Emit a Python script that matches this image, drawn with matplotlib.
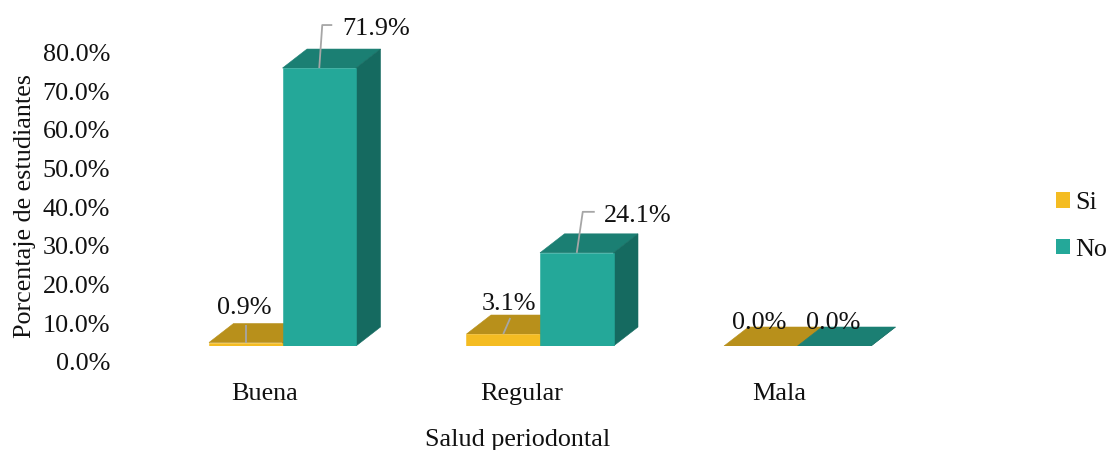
import matplotlib
matplotlib.use("Agg")
import matplotlib.pyplot as plt
from matplotlib.patches import Patch, Polygon
from matplotlib.transforms import ScaledTranslation
import numpy as np

# --- Data ---
categories = ["Buena", "Regular", "Mala"]
si_values = [0.9, 3.1, 0.0]
no_values = [71.9, 24.1, 0.0]
y_ticks = [0, 10, 20, 30, 40, 50, 60, 70, 80]

# --- Layout (pixels of the 1111x450 canvas) ---
W, H = 1111, 450
DPI = 100
AX_LEFT, AX_RIGHT = 115, 960
AX_TOP, AX_BASE = 10, 346
PX_PER_CAT = 257.5
PX_PER_PCT = 3.866
FIRST_CAT_PX = 282.5
BAR_WIDTH = 73.5 / PX_PER_CAT
DEPTH_X = 24.5 / PX_PER_CAT
DEPTH_Y = 19 / PX_PER_PCT

SI_COLORS = ("#F4BC22", "#B8901B", "#A07D17")
NO_COLORS = ("#24A899", "#1B7F73", "#156A60")
TEXT_COLOR = "#111111"
LEADER_COLOR = "#A6A6A6"
FONT_SIZE = 18.8

plt.rcParams["font.family"] = ["Liberation Serif", "DejaVu Serif"]


def draw_bars(ax, x_pos, values, colors, zorder):
    front, top, side = colors
    ax.bar(x_pos, values, width=BAR_WIDTH, color=front, edgecolor=front,
           linewidth=0.4, zorder=zorder + 1)
    for x, v in zip(x_pos, values):
        left, right = x - BAR_WIDTH / 2, x + BAR_WIDTH / 2
        ax.add_patch(Polygon(
            [(left, v), (right, v), (right + DEPTH_X, v + DEPTH_Y), (left + DEPTH_X, v + DEPTH_Y)],
            closed=True, facecolor=top, edgecolor=top, linewidth=0.4, zorder=zorder))
        ax.add_patch(Polygon(
            [(right, 0), (right + DEPTH_X, DEPTH_Y), (right + DEPTH_X, v + DEPTH_Y), (right, v)],
            closed=True, facecolor=side, edgecolor=side, linewidth=0.4, zorder=zorder))


def label_bar(ax, x, value, leader, text_off, ha="center"):
    # leader and text offsets are pixels relative to the top-centre of the bar front
    if leader:
        lx = [x + dx / PX_PER_CAT for dx, dy in leader]
        ly = [value + dy / PX_PER_PCT for dx, dy in leader]
        ax.plot(lx, ly, color=LEADER_COLOR, linewidth=1.3, zorder=10,
                solid_capstyle="butt", clip_on=False)
    ax.text(x + text_off[0] / PX_PER_CAT, value + text_off[1] / PX_PER_PCT,
            f"{value:.1f}%", ha=ha, va="center", fontsize=FONT_SIZE,
            color=TEXT_COLOR, zorder=11, clip_on=False)


fig = plt.figure(figsize=(W / DPI, H / DPI), dpi=DPI)
ax = fig.add_axes([AX_LEFT / W, 1 - AX_BASE / H, (AX_RIGHT - AX_LEFT) / W, (AX_BASE - AX_TOP) / H])
ax.patch.set_alpha(0)
ax.set_xlim((AX_LEFT - FIRST_CAT_PX) / PX_PER_CAT, (AX_RIGHT - FIRST_CAT_PX) / PX_PER_CAT)
ax.set_ylim(0, (AX_BASE - AX_TOP) / PX_PER_PCT)

x = np.arange(len(categories))
si_x = x - BAR_WIDTH / 2
no_x = x + BAR_WIDTH / 2

draw_bars(ax, si_x, si_values, SI_COLORS, 2)
draw_bars(ax, no_x, no_values, NO_COLORS, 4)

# data labels with their leader lines
label_bar(ax, si_x[0], si_values[0], [(0, 0), (0, 18)], (-1, 35))
label_bar(ax, no_x[0], no_values[0], [(0, 0), (3, 43), (13, 43)], (23.5, 39), ha="left")
label_bar(ax, si_x[1], si_values[1], [(0, 0), (7, 16)], (6, 30))
label_bar(ax, no_x[1], no_values[1], [(0, 0), (6, 41), (18, 41)], (27.5, 37), ha="left")
label_bar(ax, si_x[2], si_values[2], None, (-1.5, 23))
label_bar(ax, no_x[2], no_values[2], None, (-1.5, 23))

for spine in ax.spines.values():
    spine.set_visible(False)

# the value labels sit 15 px under their height, as the depth shifts the axis wall
ax.set_yticks(y_ticks)
ax.set_yticklabels([f"{t:.1f}%" for t in y_ticks], fontsize=FONT_SIZE, color=TEXT_COLOR)
ax.tick_params(axis="y", length=0, pad=3.5)
shift_y = ScaledTranslation(0, -15.7 / DPI, fig.dpi_scale_trans)
for lab in ax.get_yticklabels():
    lab.set_transform(lab.get_transform() + shift_y)

ax.set_xticks(x)
ax.set_xticklabels(categories, fontsize=FONT_SIZE, color=TEXT_COLOR)
ax.tick_params(axis="x", length=0, pad=26.5)
shift_x = ScaledTranslation(-18 / DPI, 0, fig.dpi_scale_trans)
for lab in ax.get_xticklabels():
    lab.set_transform(lab.get_transform() + shift_x)

fig.text(518 / W, 1 - 440 / H, "Salud periodontal", ha="center", va="center",
         fontsize=FONT_SIZE, color=TEXT_COLOR)
fig.text(25 / W, 1 - 206 / H, "Porcentaje de estudiantes", ha="center", va="center",
         rotation=90, fontsize=FONT_SIZE, color=TEXT_COLOR)

handles = [Patch(facecolor=SI_COLORS[0], label="Si"), Patch(facecolor=NO_COLORS[0], label="No")]
fig.legend(handles=handles, loc="center left", bbox_to_anchor=(1056 / W, 1 - 226.5 / H),
           frameon=False, fontsize=FONT_SIZE, handlelength=0.54, handleheight=0.54,
           handletextpad=0.2, labelspacing=0.92, borderpad=0, borderaxespad=0,
           labelcolor=TEXT_COLOR)

fig.savefig("out.png", dpi=DPI)
